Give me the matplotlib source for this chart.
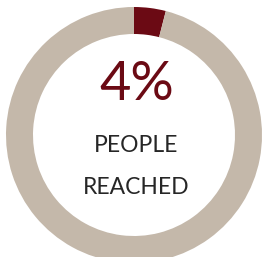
import matplotlib
matplotlib.use("Agg")
import matplotlib.pyplot as plt

labels = ["Reached", "Not reached"]
values = [4, 96]
colors = ["#6b0a14", "#c4b8aa"]
big_label = "4%"
caption = ["PEOPLE", "REACHED"]

W, H = 262, 257
fig = plt.figure(figsize=(W / 100, H / 100), dpi=100)
ax = fig.add_axes([0, 0, 1, 1])

cx, cy, r = 134, H - 135, 128
ax.pie(values, colors=colors, startangle=90, counterclock=False,
       center=(cx, cy), radius=r, frame=True,
       wedgeprops=dict(width=27, linewidth=0))
ax.set_xlim(0, W)
ax.set_ylim(0, H)
ax.set_aspect("equal")
ax.axis("off")

ax.text(cx + 3, H - 85, big_label, ha="center", va="center", color=colors[0],
        fontsize=39, family="Lato")
ax.text(cx + 2, H - 145, caption[0], ha="center", va="center", color="#262626",
        fontsize=16.5, family="Lato")
ax.text(cx + 2, H - 188, caption[1], ha="center", va="center", color="#262626",
        fontsize=16.5, family="Lato")

fig.savefig("out.png", dpi=100)
